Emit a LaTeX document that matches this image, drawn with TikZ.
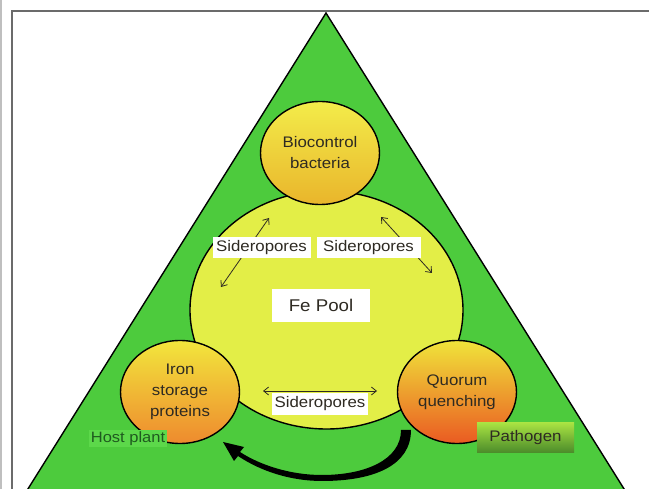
\documentclass[tikz,border=0pt]{standalone}
\usepackage{fontspec}
\setmainfont{Liberation Sans}[FakeStretch=1.1]
\usetikzlibrary{shapes.geometric,arrows.meta}
\definecolor{trigreen}{HTML}{4DCB3D}
\definecolor{poolyellow}{HTML}{E3EE47}
\definecolor{txt}{HTML}{2E2A22}
\definecolor{framegray}{HTML}{6B6B6B}
\definecolor{hostgreen}{HTML}{5CD84A}
\definecolor{hosttext}{HTML}{1F5A1F}
\begin{document}
\begin{tikzpicture}[x=1pt,y=-1pt,
  cell/.style={ellipse, draw=black, line width=1.4pt, minimum width=119pt, minimum height=103pt,
    inner sep=0pt, align=center, text=txt, font=\fontsize{15.3}{21}\selectfont},
  wlabel/.style={fill=white, text=txt, inner sep=0pt, minimum height=21pt,
    font=\fontsize{15.3}{18}\selectfont},
  dblarrow/.style={{Straight Barb[length=5pt,width=8pt]}-{Straight Barb[length=5pt,width=8pt]}, line width=0.8pt, draw=txt}
]
\useasboundingbox (0,0) rectangle (649,489);
\fill[white] (0,0) rectangle (649,489);
\begin{scope}
  \clip (0,0) rectangle (649,489);
  \draw[black, line width=1.4pt, fill=trigreen] (326,13) -- (16,508) -- (636,508) -- cycle;
  \draw[framegray, line width=2pt] (11.5,495) -- (11.5,11.5) -- (655,11.5);
  \draw[black!25, line width=1.5pt] (1,0) -- (1,489);
\end{scope}

% Fe pool
\node[ellipse, draw=black, line width=1.4pt, fill=poolyellow, minimum width=273pt, minimum height=238pt] (pool) at (326.5,310) {};

% three cells
\node[cell, top color={rgb,255:red,243;green,236;blue,74}, bottom color={rgb,255:red,233;green,181;blue,43}] (bio) at (320,153) {Biocontrol\\bacteria};
\node[cell, top color={rgb,255:red,242;green,230;blue,60}, bottom color={rgb,255:red,238;green,138;blue,46}] (iron) at (180,392) {Iron\\storage\\proteins};
\node[cell, top color={rgb,255:red,240;green,228;blue,58}, bottom color={rgb,255:red,234;green,90;blue,34}] (qq) at (457,392) {Quorum\\quenching};

% siderophore arrows
\coordinate (la) at (221,287); \coordinate (lb) at (269,218);
\coordinate (ra) at (381,217); \coordinate (rb) at (432,273);
\coordinate (ba) at (263,391); \coordinate (bb) at (377,391);
\draw[dblarrow] (la) -- (lb);
\draw[dblarrow] (ra) -- (rb);
\draw[dblarrow] (ba) -- (bb);

% labels
\node[wlabel, minimum width=98pt] (sl) at (261.5,247.5) {Sideropores};
\node[wlabel, minimum width=104pt] (sr) at (368.5,247.5) {Sideropores};
\node[wlabel, minimum width=96pt, minimum height=22pt] (sb) at (320,404) {Sideropores};
\node[fill=white, text=txt, inner sep=0pt, minimum width=98pt, minimum height=33pt,
  font=\fontsize{17}{20}\selectfont] (fe) at (321,305.5) {Fe Pool};

% host plant and pathogen
\node[fill=hostgreen, text=hosttext, inner sep=0pt, minimum width=78pt, minimum height=17pt,
  font=\fontsize{15}{18}\selectfont] (host) at (128,439) {Host plant};
\node[top color={rgb,255:red,168;green,226;blue,66}, bottom color={rgb,255:red,74;green,138;blue,42},
  text=txt, inner sep=0pt, minimum width=97pt, minimum height=30pt,
  font=\fontsize{15.3}{18}\selectfont] (path) at (525.5,438) {Pathogen};

% big curved arrow (tapered)
\coordinate (tail) at (406,430);
\coordinate (tip) at (223,442);
\fill[black] (401,430) .. controls (401,460) and (365,475) .. (322,475)
  .. controls (290,475) and (260,465) .. (240,452) -- (244,447) -- (tip) -- (234,461) -- (238,456)
  .. controls (262,472) and (292,481) .. (322,481) .. controls (375,481) and (411,465) .. (411,430) -- cycle;
\end{tikzpicture}
\end{document}
